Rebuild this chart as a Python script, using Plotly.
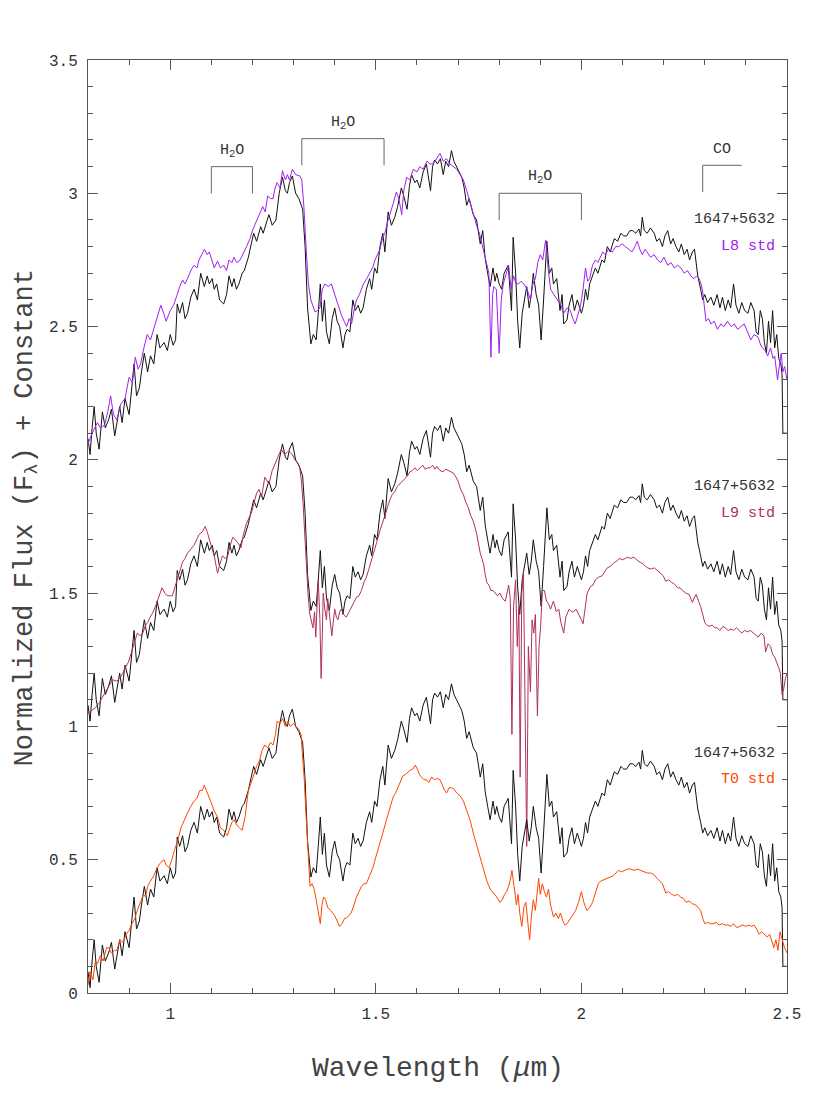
import plotly.graph_objects as go

# 1647+5632 spectrum (normalized, no offset): wavelength (um), flux
obj = [
    (0.800, 0.08), (0.805, 0.02), (0.810, 0.12), (0.815, 0.20), (0.820, 0.10), (0.827, 0.04),
    (0.835, 0.18), (0.842, 0.12), (0.850, 0.15), (0.857, 0.19), (0.865, 0.09), (0.877, 0.20),
    (0.883, 0.14), (0.890, 0.23), (0.900, 0.17), (0.905, 0.25), (0.912, 0.36), (0.918, 0.24),
    (0.925, 0.27), (0.930, 0.33), (0.937, 0.40), (0.945, 0.33), (0.952, 0.39), (0.960, 0.36),
    (0.968, 0.47), (0.975, 0.42), (0.985, 0.44), (0.993, 0.41), (1.000, 0.47), (1.007, 0.43),
    (1.013, 0.45), (1.017, 0.585), (1.023, 0.55), (1.030, 0.59), (1.036, 0.53), (1.042, 0.55),
    (1.050, 0.61), (1.058, 0.64), (1.066, 0.60), (1.074, 0.70), (1.083, 0.65), (1.090, 0.69),
    (1.095, 0.66), (1.102, 0.68), (1.107, 0.64), (1.113, 0.66), (1.120, 0.60), (1.130, 0.585),
    (1.137, 0.62), (1.143, 0.69), (1.150, 0.65), (1.155, 0.68), (1.161, 0.64), (1.167, 0.66),
    (1.175, 0.70), (1.180, 0.71), (1.190, 0.76), (1.197, 0.81), (1.203, 0.85), (1.210, 0.82),
    (1.220, 0.875), (1.226, 0.85), (1.232, 0.88), (1.240, 0.92), (1.248, 0.88), (1.257, 0.90),
    (1.265, 1.00), (1.273, 1.06), (1.280, 1.01), (1.285, 1.00), (1.290, 1.04), (1.297, 1.065),
    (1.305, 1.00), (1.313, 0.98), (1.322, 0.94), (1.328, 0.80), (1.334, 0.57), (1.342, 0.435),
    (1.348, 0.47), (1.355, 0.45), (1.360, 0.55), (1.365, 0.66), (1.370, 0.52), (1.375, 0.60),
    (1.380, 0.48), (1.387, 0.435), (1.394, 0.53), (1.400, 0.57), (1.406, 0.52), (1.412, 0.50),
    (1.420, 0.42), (1.425, 0.47), (1.430, 0.49), (1.437, 0.48), (1.444, 0.60), (1.450, 0.56),
    (1.457, 0.58), (1.463, 0.55), (1.469, 0.57), (1.477, 0.64), (1.485, 0.68), (1.490, 0.64),
    (1.497, 0.72), (1.503, 0.70), (1.510, 0.80), (1.517, 0.85), (1.522, 0.78), (1.530, 0.93),
    (1.538, 0.88), (1.546, 0.91), (1.553, 0.95), (1.562, 1.02), (1.568, 0.99), (1.576, 0.94),
    (1.582, 1.03), (1.587, 1.07), (1.595, 1.04), (1.600, 1.05), (1.607, 1.02), (1.615, 1.08),
    (1.623, 1.11), (1.633, 1.01), (1.638, 1.10), (1.643, 1.125), (1.650, 1.11), (1.657, 1.13),
    (1.664, 1.07), (1.670, 1.12), (1.677, 1.10), (1.684, 1.16), (1.690, 1.12), (1.696, 1.10),
    (1.703, 1.08), (1.709, 1.06), (1.715, 1.02), (1.721, 0.955), (1.727, 0.98), (1.737, 0.92),
    (1.745, 0.90), (1.750, 0.84), (1.754, 0.81), (1.760, 0.86), (1.766, 0.755), (1.772, 0.70),
    (1.778, 0.65), (1.785, 0.72), (1.790, 0.67), (1.794, 0.70), (1.800, 0.66), (1.806, 0.64),
    (1.812, 0.70), (1.822, 0.73), (1.827, 0.62), (1.830, 0.56), (1.834, 0.835), (1.840, 0.70),
    (1.845, 0.52), (1.850, 0.42), (1.856, 0.55), (1.862, 0.60), (1.867, 0.65), (1.873, 0.57),
    (1.878, 0.62), (1.883, 0.70), (1.890, 0.62), (1.896, 0.58), (1.902, 0.45), (1.908, 0.60),
    (1.912, 0.74), (1.916, 0.82), (1.922, 0.70), (1.928, 0.72), (1.932, 0.66), (1.940, 0.68),
    (1.948, 0.56), (1.953, 0.62), (1.957, 0.51), (1.965, 0.525), (1.970, 0.58), (1.977, 0.62),
    (1.983, 0.56), (1.990, 0.60), (2.000, 0.55), (2.005, 0.58), (2.010, 0.64), (2.015, 0.60),
    (2.020, 0.66), (2.027, 0.69), (2.034, 0.72), (2.040, 0.70), (2.050, 0.75), (2.056, 0.74),
    (2.063, 0.80), (2.070, 0.78), (2.080, 0.83), (2.088, 0.82), (2.096, 0.85), (2.103, 0.84),
    (2.110, 0.84), (2.118, 0.86), (2.125, 0.86), (2.132, 0.85), (2.140, 0.866), (2.144, 0.84),
    (2.148, 0.91), (2.153, 0.86), (2.160, 0.85), (2.168, 0.87), (2.177, 0.85), (2.183, 0.82),
    (2.190, 0.83), (2.197, 0.80), (2.203, 0.84), (2.210, 0.86), (2.217, 0.81), (2.223, 0.83),
    (2.230, 0.80), (2.237, 0.78), (2.243, 0.81), (2.250, 0.77), (2.257, 0.79), (2.263, 0.75),
    (2.270, 0.78), (2.275, 0.79), (2.280, 0.72), (2.283, 0.69), (2.290, 0.64), (2.295, 0.60),
    (2.300, 0.62), (2.307, 0.59), (2.315, 0.61), (2.322, 0.58), (2.330, 0.62), (2.337, 0.57),
    (2.343, 0.61), (2.350, 0.56), (2.357, 0.60), (2.363, 0.57), (2.370, 0.66), (2.376, 0.58),
    (2.383, 0.55), (2.390, 0.59), (2.397, 0.56), (2.405, 0.55), (2.412, 0.59), (2.420, 0.56),
    (2.425, 0.48), (2.430, 0.47), (2.435, 0.56), (2.440, 0.53), (2.445, 0.44), (2.450, 0.40),
    (2.455, 0.52), (2.460, 0.44), (2.465, 0.56), (2.470, 0.42), (2.475, 0.47), (2.480, 0.38),
    (2.485, 0.36), (2.488, 0.32), (2.490, 0.10), (2.495, 0.10), (2.500, 0.10),
]

# L8 standard (normalized)
l8_std = [
    (0.800, 0.06), (0.810, 0.10), (0.823, 0.14), (0.830, 0.12), (0.840, 0.13), (0.848, 0.18),
    (0.855, 0.24), (0.862, 0.17), (0.870, 0.15), (0.880, 0.21), (0.890, 0.23), (0.900, 0.31),
    (0.908, 0.29), (0.915, 0.385), (0.922, 0.34), (0.928, 0.36), (0.936, 0.42), (0.944, 0.47),
    (0.952, 0.45), (0.960, 0.49), (0.968, 0.53), (0.977, 0.58), (0.984, 0.55), (0.990, 0.52),
    (1.000, 0.56), (1.008, 0.58), (1.017, 0.62), (1.023, 0.65), (1.030, 0.675), (1.036, 0.66),
    (1.042, 0.68), (1.050, 0.71), (1.058, 0.73), (1.065, 0.72), (1.070, 0.75), (1.077, 0.77),
    (1.083, 0.79), (1.090, 0.77), (1.095, 0.78), (1.101, 0.75), (1.107, 0.72), (1.115, 0.745),
    (1.122, 0.72), (1.130, 0.73), (1.137, 0.71), (1.143, 0.75), (1.150, 0.74), (1.155, 0.76),
    (1.162, 0.74), (1.170, 0.75), (1.180, 0.78), (1.187, 0.805), (1.194, 0.83), (1.200, 0.86),
    (1.208, 0.89), (1.216, 0.92), (1.225, 0.95), (1.231, 0.93), (1.237, 0.99), (1.244, 0.98),
    (1.250, 0.98), (1.255, 1.02), (1.260, 1.04), (1.267, 1.02), (1.273, 1.085), (1.280, 1.05),
    (1.285, 1.07), (1.290, 1.05), (1.297, 1.09), (1.305, 1.07), (1.315, 1.065), (1.320, 1.05),
    (1.325, 0.95), (1.331, 0.78), (1.336, 0.66), (1.342, 0.60), (1.352, 0.555), (1.358, 0.56),
    (1.364, 0.57), (1.370, 0.64), (1.376, 0.66), (1.384, 0.65), (1.392, 0.66), (1.398, 0.63),
    (1.404, 0.60), (1.411, 0.57), (1.417, 0.54), (1.423, 0.52), (1.429, 0.50), (1.435, 0.53),
    (1.441, 0.51), (1.447, 0.56), (1.453, 0.60), (1.460, 0.62), (1.470, 0.66), (1.478, 0.68),
    (1.486, 0.70), (1.492, 0.72), (1.498, 0.75), (1.504, 0.77), (1.510, 0.79), (1.516, 0.83),
    (1.522, 0.85), (1.528, 0.89), (1.535, 0.93), (1.542, 0.96), (1.550, 1.005), (1.556, 0.98),
    (1.563, 0.92), (1.568, 1.01), (1.575, 1.06), (1.583, 1.05), (1.591, 1.09), (1.600, 1.08),
    (1.607, 1.10), (1.615, 1.09), (1.624, 1.12), (1.632, 1.11), (1.640, 1.11), (1.648, 1.13),
    (1.656, 1.15), (1.664, 1.12), (1.672, 1.13), (1.680, 1.11), (1.689, 1.10), (1.697, 1.09),
    (1.705, 1.07), (1.713, 1.05), (1.721, 1.01), (1.728, 0.97), (1.734, 0.94), (1.740, 0.91),
    (1.746, 0.875), (1.752, 0.85), (1.758, 0.81), (1.764, 0.78), (1.770, 0.74), (1.775, 0.70),
    (1.780, 0.385), (1.784, 0.62), (1.787, 0.65), (1.793, 0.64), (1.800, 0.40), (1.805, 0.60),
    (1.810, 0.66), (1.817, 0.70), (1.823, 0.73), (1.829, 0.64), (1.835, 0.69), (1.841, 0.66),
    (1.847, 0.66), (1.853, 0.67), (1.860, 0.66), (1.868, 0.64), (1.876, 0.60), (1.882, 0.66),
    (1.888, 0.68), (1.894, 0.74), (1.900, 0.77), (1.906, 0.75), (1.913, 0.825), (1.919, 0.72),
    (1.925, 0.64), (1.933, 0.62), (1.941, 0.60), (1.950, 0.58), (1.957, 0.55), (1.965, 0.57),
    (1.973, 0.56), (1.979, 0.53), (1.985, 0.51), (1.992, 0.55), (1.998, 0.58), (2.004, 0.64),
    (2.010, 0.72), (2.015, 0.67), (2.020, 0.68), (2.027, 0.73), (2.034, 0.75), (2.040, 0.74),
    (2.046, 0.76), (2.052, 0.78), (2.058, 0.77), (2.066, 0.79), (2.075, 0.78), (2.083, 0.80),
    (2.091, 0.80), (2.099, 0.81), (2.107, 0.80), (2.115, 0.79), (2.123, 0.78), (2.130, 0.80),
    (2.136, 0.82), (2.142, 0.79), (2.148, 0.77), (2.155, 0.79), (2.160, 0.78), (2.168, 0.76),
    (2.177, 0.77), (2.185, 0.75), (2.193, 0.74), (2.201, 0.76), (2.210, 0.73), (2.218, 0.74),
    (2.226, 0.72), (2.234, 0.73), (2.242, 0.72), (2.250, 0.70), (2.258, 0.71), (2.266, 0.69),
    (2.274, 0.68), (2.280, 0.69), (2.286, 0.68), (2.291, 0.66), (2.295, 0.63), (2.300, 0.56),
    (2.303, 0.52), (2.309, 0.53), (2.315, 0.51), (2.323, 0.52), (2.331, 0.49), (2.339, 0.51),
    (2.347, 0.50), (2.355, 0.52), (2.364, 0.50), (2.372, 0.51), (2.380, 0.49), (2.388, 0.50),
    (2.396, 0.51), (2.404, 0.48), (2.412, 0.45), (2.420, 0.47), (2.430, 0.46), (2.436, 0.43),
    (2.440, 0.42), (2.447, 0.41), (2.453, 0.39), (2.460, 0.42), (2.466, 0.38), (2.470, 0.39),
    (2.477, 0.30), (2.482, 0.36), (2.486, 0.40), (2.490, 0.33), (2.494, 0.35), (2.500, 0.30),
]

# L9 standard (normalized)
l9_std = [
    (0.800, 0.05), (0.810, 0.06), (0.818, 0.07), (0.828, 0.09), (0.840, 0.125), (0.850, 0.15),
    (0.860, 0.175), (0.870, 0.17), (0.877, 0.18), (0.885, 0.20), (0.890, 0.22), (0.898, 0.24),
    (0.905, 0.275), (0.912, 0.31), (0.920, 0.35), (0.927, 0.34), (0.933, 0.35), (0.940, 0.38),
    (0.945, 0.39), (0.951, 0.41), (0.957, 0.425), (0.964, 0.45), (0.970, 0.475), (0.975, 0.50),
    (0.980, 0.52), (0.987, 0.50), (0.993, 0.49), (1.000, 0.49), (1.005, 0.49), (1.011, 0.52),
    (1.017, 0.55), (1.024, 0.59), (1.030, 0.617), (1.036, 0.63), (1.042, 0.65), (1.050, 0.665),
    (1.058, 0.68), (1.064, 0.70), (1.070, 0.72), (1.078, 0.73), (1.085, 0.75), (1.090, 0.73),
    (1.095, 0.70), (1.101, 0.67), (1.107, 0.64), (1.115, 0.575), (1.121, 0.61), (1.127, 0.64),
    (1.134, 0.63), (1.140, 0.64), (1.146, 0.68), (1.152, 0.71), (1.158, 0.70), (1.164, 0.69),
    (1.172, 0.67), (1.178, 0.72), (1.185, 0.76), (1.191, 0.78), (1.197, 0.80), (1.204, 0.84),
    (1.210, 0.875), (1.216, 0.89), (1.222, 0.86), (1.230, 0.935), (1.236, 0.92), (1.240, 0.91),
    (1.248, 0.96), (1.257, 0.99), (1.263, 1.01), (1.270, 1.04), (1.278, 1.02), (1.285, 1.03),
    (1.290, 1.03), (1.297, 1.02), (1.303, 1.00), (1.309, 0.99), (1.315, 0.97), (1.319, 0.92),
    (1.323, 0.84), (1.327, 0.72), (1.331, 0.61), (1.335, 0.50), (1.339, 0.425), (1.343, 0.39),
    (1.347, 0.37), (1.351, 0.43), (1.354, 0.335), (1.357, 0.45), (1.360, 0.55), (1.364, 0.40),
    (1.367, 0.18), (1.370, 0.35), (1.372, 0.50), (1.376, 0.44), (1.380, 0.40), (1.383, 0.48),
    (1.386, 0.43), (1.390, 0.39), (1.393, 0.34), (1.397, 0.40), (1.400, 0.44), (1.404, 0.41),
    (1.408, 0.40), (1.412, 0.43), (1.416, 0.44), (1.422, 0.42), (1.428, 0.41), (1.435, 0.43),
    (1.441, 0.45), (1.447, 0.47), (1.453, 0.485), (1.459, 0.49), (1.465, 0.51), (1.471, 0.54),
    (1.477, 0.56), (1.483, 0.59), (1.490, 0.625), (1.496, 0.66), (1.502, 0.69), (1.510, 0.735),
    (1.516, 0.76), (1.522, 0.79), (1.528, 0.82), (1.534, 0.85), (1.540, 0.87), (1.546, 0.88),
    (1.552, 0.90), (1.559, 0.91), (1.565, 0.92), (1.571, 0.93), (1.577, 0.94), (1.583, 0.955),
    (1.589, 0.96), (1.595, 0.97), (1.601, 0.96), (1.608, 0.97), (1.614, 0.98), (1.620, 0.965),
    (1.626, 0.97), (1.632, 0.97), (1.638, 0.98), (1.644, 0.965), (1.648, 0.975), (1.656, 0.96),
    (1.664, 0.955), (1.670, 0.965), (1.677, 0.96), (1.683, 0.955), (1.689, 0.95), (1.695, 0.935),
    (1.700, 0.92), (1.706, 0.89), (1.713, 0.87), (1.719, 0.84), (1.725, 0.82), (1.731, 0.79),
    (1.737, 0.77), (1.745, 0.725), (1.750, 0.68), (1.754, 0.65), (1.758, 0.63), (1.762, 0.61),
    (1.766, 0.57), (1.770, 0.54), (1.775, 0.53), (1.780, 0.51), (1.785, 0.51), (1.790, 0.50),
    (1.796, 0.49), (1.802, 0.50), (1.808, 0.48), (1.815, 0.47), (1.819, 0.50), (1.823, 0.53),
    (1.827, 0.48), (1.831, -0.03), (1.835, 0.45), (1.840, 0.55), (1.844, 0.30), (1.848, 0.45),
    (1.851, -0.19), (1.855, 0.50), (1.859, 0.58), (1.863, 0.10), (1.867, -0.45), (1.871, 0.30),
    (1.876, 0.13), (1.880, 0.40), (1.884, 0.35), (1.888, 0.42), (1.893, 0.04), (1.897, 0.30),
    (1.901, 0.38), (1.905, 0.51), (1.910, 0.51), (1.915, 0.47), (1.920, 0.46), (1.925, 0.44),
    (1.932, 0.47), (1.939, 0.43), (1.945, 0.44), (1.950, 0.39), (1.957, 0.35), (1.962, 0.41),
    (1.970, 0.44), (1.976, 0.43), (1.981, 0.43), (1.987, 0.44), (1.994, 0.42), (2.000, 0.40),
    (2.004, 0.385), (2.010, 0.45), (2.014, 0.50), (2.022, 0.525), (2.028, 0.53), (2.034, 0.55),
    (2.042, 0.56), (2.050, 0.565), (2.057, 0.58), (2.063, 0.595), (2.070, 0.60), (2.080, 0.615),
    (2.086, 0.62), (2.092, 0.63), (2.100, 0.625), (2.106, 0.63), (2.112, 0.635), (2.120, 0.63),
    (2.126, 0.635), (2.132, 0.63), (2.138, 0.62), (2.144, 0.615), (2.150, 0.61), (2.156, 0.60),
    (2.161, 0.595), (2.170, 0.59), (2.177, 0.595), (2.185, 0.585), (2.193, 0.575), (2.199, 0.565),
    (2.205, 0.545), (2.212, 0.55), (2.220, 0.54), (2.226, 0.535), (2.234, 0.52), (2.240, 0.52),
    (2.246, 0.51), (2.254, 0.50), (2.262, 0.495), (2.270, 0.465), (2.275, 0.485), (2.279, 0.495),
    (2.285, 0.47), (2.290, 0.45), (2.295, 0.42), (2.300, 0.39), (2.305, 0.38), (2.310, 0.375),
    (2.318, 0.38), (2.325, 0.37), (2.330, 0.37), (2.337, 0.36), (2.344, 0.375), (2.350, 0.37),
    (2.357, 0.36), (2.364, 0.365), (2.370, 0.36), (2.377, 0.37), (2.384, 0.36), (2.390, 0.35),
    (2.397, 0.36), (2.404, 0.355), (2.411, 0.36), (2.418, 0.35), (2.424, 0.34), (2.430, 0.335),
    (2.437, 0.35), (2.444, 0.34), (2.448, 0.28), (2.454, 0.31), (2.460, 0.30), (2.465, 0.27),
    (2.470, 0.26), (2.476, 0.24), (2.480, 0.22), (2.484, 0.20), (2.488, 0.12), (2.492, 0.14),
    (2.496, 0.18), (2.500, 0.20),
]

# T0 standard (normalized)
t0_std = [
    (0.800, 0.03), (0.805, 0.08), (0.812, 0.05), (0.818, 0.12), (0.823, 0.11), (0.830, 0.14),
    (0.837, 0.12), (0.845, 0.17), (0.850, 0.17), (0.857, 0.15), (0.865, 0.16), (0.870, 0.16),
    (0.878, 0.20), (0.885, 0.19), (0.893, 0.22), (0.900, 0.235), (0.907, 0.26), (0.914, 0.28),
    (0.920, 0.31), (0.928, 0.34), (0.935, 0.37), (0.940, 0.36), (0.945, 0.40), (0.952, 0.42),
    (0.960, 0.44), (0.968, 0.47), (0.977, 0.49), (0.985, 0.50), (0.990, 0.48), (0.997, 0.47),
    (1.004, 0.50), (1.010, 0.535), (1.018, 0.57), (1.026, 0.62), (1.034, 0.65), (1.042, 0.675),
    (1.050, 0.70), (1.058, 0.72), (1.065, 0.73), (1.072, 0.76), (1.078, 0.76), (1.083, 0.78),
    (1.088, 0.76), (1.095, 0.73), (1.102, 0.70), (1.108, 0.68), (1.115, 0.66), (1.122, 0.62),
    (1.130, 0.61), (1.139, 0.59), (1.145, 0.62), (1.150, 0.64), (1.155, 0.65), (1.162, 0.63),
    (1.168, 0.62), (1.175, 0.61), (1.182, 0.66), (1.190, 0.76), (1.197, 0.79), (1.203, 0.82),
    (1.210, 0.85), (1.217, 0.87), (1.223, 0.91), (1.230, 0.93), (1.237, 0.92), (1.244, 0.94),
    (1.250, 0.93), (1.256, 0.97), (1.260, 1.02), (1.267, 1.01), (1.273, 1.03), (1.280, 1.00),
    (1.286, 1.02), (1.292, 1.00), (1.300, 1.01), (1.306, 1.00), (1.312, 0.99), (1.318, 0.97),
    (1.322, 0.90), (1.326, 0.80), (1.330, 0.675), (1.335, 0.52), (1.340, 0.40), (1.345, 0.41),
    (1.350, 0.39), (1.355, 0.35), (1.360, 0.30), (1.365, 0.26), (1.369, 0.33), (1.373, 0.36),
    (1.378, 0.35), (1.383, 0.32), (1.390, 0.31), (1.395, 0.30), (1.400, 0.29), (1.406, 0.27),
    (1.412, 0.25), (1.418, 0.26), (1.424, 0.28), (1.428, 0.28), (1.435, 0.29), (1.440, 0.30),
    (1.447, 0.33), (1.453, 0.36), (1.459, 0.38), (1.465, 0.40), (1.471, 0.41), (1.477, 0.41),
    (1.485, 0.44), (1.493, 0.47), (1.500, 0.51), (1.509, 0.555), (1.517, 0.60), (1.526, 0.65),
    (1.534, 0.69), (1.542, 0.735), (1.548, 0.75), (1.554, 0.77), (1.560, 0.79), (1.566, 0.815),
    (1.572, 0.82), (1.578, 0.83), (1.583, 0.835), (1.590, 0.84), (1.596, 0.855), (1.601, 0.84),
    (1.606, 0.82), (1.611, 0.81), (1.617, 0.80), (1.623, 0.80), (1.629, 0.79), (1.636, 0.81),
    (1.643, 0.80), (1.650, 0.805), (1.656, 0.80), (1.662, 0.78), (1.667, 0.76), (1.672, 0.75),
    (1.678, 0.77), (1.684, 0.77), (1.690, 0.765), (1.697, 0.75), (1.705, 0.74), (1.713, 0.72),
    (1.721, 0.685), (1.729, 0.65), (1.737, 0.60), (1.745, 0.555), (1.754, 0.51), (1.762, 0.47),
    (1.770, 0.42), (1.778, 0.39), (1.786, 0.375), (1.794, 0.36), (1.802, 0.34), (1.808, 0.35),
    (1.813, 0.37), (1.818, 0.38), (1.823, 0.40), (1.828, 0.43), (1.831, 0.46), (1.835, 0.40),
    (1.838, 0.38), (1.842, 0.33), (1.846, 0.37), (1.850, 0.30), (1.855, 0.25), (1.860, 0.32),
    (1.865, 0.34), (1.870, 0.26), (1.874, 0.20), (1.878, 0.28), (1.883, 0.35), (1.888, 0.31),
    (1.893, 0.40), (1.896, 0.43), (1.900, 0.37), (1.905, 0.41), (1.910, 0.38), (1.915, 0.36),
    (1.920, 0.39), (1.925, 0.33), (1.932, 0.285), (1.938, 0.30), (1.944, 0.28), (1.949, 0.30),
    (1.955, 0.27), (1.960, 0.255), (1.965, 0.26), (1.970, 0.27), (1.978, 0.29), (1.986, 0.31),
    (1.993, 0.34), (2.000, 0.38), (2.006, 0.34), (2.013, 0.31), (2.020, 0.32), (2.027, 0.34),
    (2.034, 0.38), (2.041, 0.41), (2.047, 0.42), (2.055, 0.425), (2.062, 0.43), (2.070, 0.435),
    (2.078, 0.44), (2.084, 0.45), (2.090, 0.46), (2.098, 0.455), (2.105, 0.46), (2.112, 0.465),
    (2.120, 0.465), (2.128, 0.46), (2.136, 0.465), (2.144, 0.46), (2.152, 0.455), (2.160, 0.45),
    (2.168, 0.45), (2.176, 0.445), (2.184, 0.43), (2.190, 0.42), (2.197, 0.41), (2.205, 0.375),
    (2.212, 0.38), (2.220, 0.37), (2.227, 0.365), (2.234, 0.37), (2.241, 0.36), (2.248, 0.355),
    (2.255, 0.34), (2.262, 0.345), (2.270, 0.335), (2.278, 0.33), (2.285, 0.32), (2.290, 0.31),
    (2.295, 0.28), (2.300, 0.26), (2.307, 0.265), (2.314, 0.26), (2.320, 0.26), (2.328, 0.265),
    (2.335, 0.255), (2.342, 0.26), (2.350, 0.255), (2.357, 0.255), (2.364, 0.25), (2.370, 0.26),
    (2.378, 0.245), (2.385, 0.25), (2.392, 0.255), (2.400, 0.25), (2.407, 0.255), (2.414, 0.25),
    (2.420, 0.255), (2.426, 0.24), (2.432, 0.22), (2.438, 0.23), (2.445, 0.22), (2.452, 0.21),
    (2.458, 0.22), (2.463, 0.19), (2.468, 0.17), (2.473, 0.20), (2.478, 0.16), (2.483, 0.23),
    (2.488, 0.20), (2.494, 0.17), (2.500, 0.15),
]

std_names = ["L8 std", "L9 std", "T0 std"]
std_colors = ["#a020f0", "#b03060", "#ff4500"]
offsets = [2, 1, 0]
obj_name = "1647+5632"

# absorption bands: label, start, end, bracket height
bands = [
    ("H<sub>2</sub>O", 1.10, 1.20, 3.10),
    ("H<sub>2</sub>O", 1.32, 1.52, 3.205),
    ("H<sub>2</sub>O", 1.80, 2.00, 3.00),
]
co_band = ("CO", 2.295, 2.39, 3.105)

FONT = "Liberation Mono"
AX = "#555555"
TXT = "#333333"

fig = go.Figure()

ow, of = zip(*obj)
for std, name, col, off in zip([l8_std, l9_std, t0_std], std_names, std_colors, offsets):
    fig.add_trace(go.Scatter(x=ow, y=[v + off for v in of], mode="lines",
                             line=dict(color="#111111", width=1), showlegend=False))
    sw, sf = zip(*std)
    fig.add_trace(go.Scatter(x=sw, y=[v + off for v in sf], mode="lines",
                             line=dict(color=col, width=1), showlegend=False))
    # labels on the right
    fig.add_annotation(x=2.476, y=off + 0.9, text=obj_name, showarrow=False,
                       xanchor="right", yanchor="middle",
                       font=dict(family=FONT, size=15, color=TXT))
    fig.add_annotation(x=2.476, y=off + 0.8, text=name, showarrow=False,
                       xanchor="right", yanchor="middle",
                       font=dict(family=FONT, size=15, color=col))

# band brackets
drop = 0.1
for lab, x0, x1, yb in bands:
    fig.add_trace(go.Scatter(x=[x0, x0, x1, x1], y=[yb - drop, yb, yb, yb - drop],
                             mode="lines", line=dict(color="#666666", width=1),
                             showlegend=False, hoverinfo="skip"))
    fig.add_annotation(x=(x0 + x1) / 2, y=yb + 0.06, text=lab, showarrow=False,
                       yanchor="middle", font=dict(family=FONT, size=15, color=TXT))

lab, x0, x1, yb = co_band
fig.add_trace(go.Scatter(x=[x0, x0, x1], y=[yb - drop, yb, yb],
                         mode="lines", line=dict(color="#666666", width=1),
                         showlegend=False, hoverinfo="skip"))
fig.add_annotation(x=(x0 + x1) / 2, y=yb + 0.06, text=lab, showarrow=False,
                   yanchor="middle", font=dict(family=FONT, size=15, color=TXT))

# axis titles as annotations so they don't push the margins
fig.add_annotation(x=0.5, y=0, xref="paper", yref="paper", yshift=-75,
                   text="Wavelength (<i>μ</i>m)", showarrow=False,
                   xanchor="center", yanchor="middle",
                   font=dict(family=FONT, size=28, color="#444444"))
fig.add_annotation(x=0, y=0.5, xref="paper", yref="paper", xshift=-62, yshift=8,
                   text="Normalized Flux (F<sub>λ</sub>) + Constant", textangle=-90,
                   showarrow=False, xanchor="center", yanchor="middle",
                   font=dict(family=FONT, size=27, color="#444444"))

axis_common = dict(
    showgrid=False, zeroline=False, showline=True, linecolor=AX, linewidth=1,
    mirror="allticks", ticks="inside", ticklen=10, tickcolor=AX, tickwidth=1,
    tickfont=dict(family=FONT, size=16, color=TXT), automargin=False,
    minor=dict(dtick=0.1, ticks="inside", ticklen=5, tickcolor=AX),
)

fig.update_layout(
    width=814, height=1090,
    margin=dict(l=80, r=35, t=52, b=105),
    plot_bgcolor="white", paper_bgcolor="white",
    xaxis=dict(range=[0.8, 2.5], tick0=0, dtick=0.5, ticklabelstandoff=6, **axis_common),
    yaxis=dict(range=[0, 3.5], tick0=0, dtick=0.5, ticklabelstandoff=6, **axis_common),
    showlegend=False,
)

fig.write_html("out.html")
